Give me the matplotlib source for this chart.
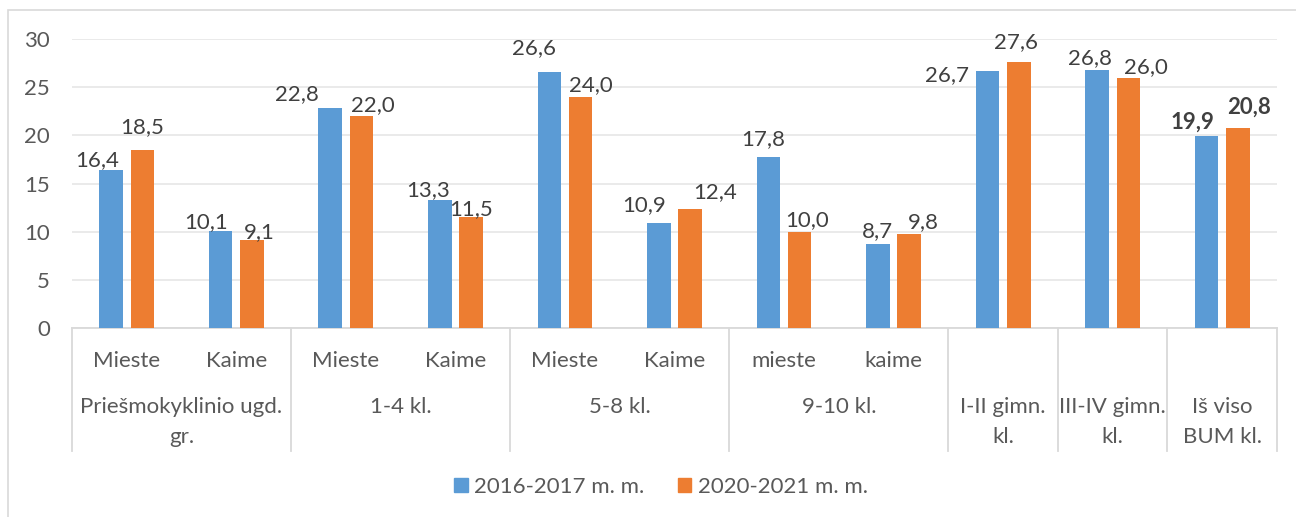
#!/usr/bin/env python
# -*- coding: utf-8 -*-
"""
Stulpelinė diagrama: 2016-2017 ir 2020-2021 m. m. palyginimas pagal klases
"""

import matplotlib
matplotlib.use('Agg')
import matplotlib.pyplot as plt
from matplotlib.patches import Rectangle, Patch
import numpy as np

plt.rcParams['font.family'] = ['Lato', 'DejaVu Sans']

# duomenys
sub_labels = ['Mieste', 'Kaime', 'Mieste', 'Kaime', 'Mieste', 'Kaime',
              'mieste', 'kaime', '', '', '']
group_labels = ['Priešmokyklinio ugd.\ngr.', '1-4 kl.', '5-8 kl.', '9-10 kl.',
                'I-II gimn.\nkl.', 'III-IV gimn.\nkl.', 'Iš viso\nBUM kl.']
group_sizes = [2, 2, 2, 2, 1, 1, 1]
series_names = ['2016-2017 m. m.', '2020-2021 m. m.']
vals_2016 = [16.4, 10.1, 22.8, 13.3, 26.6, 10.9, 17.8, 8.7, 26.7, 26.8, 19.9]
vals_2020 = [18.5, 9.1, 22.0, 11.5, 24.0, 12.4, 10.0, 9.8, 27.6, 26.0, 20.8]
y_ticks = [0, 5, 10, 15, 20, 25, 30]

# reikšmių etikečių poslinkiai (pikseliais), kaip originale
lbl_off_2016 = [(-14, 10), (-15, 9), (-33, 14), (-12, 10), (-15, 24), (-15, 18),
                (-5, 17), (0, 13), (-40, -4), (-7, 12), (-14, 14)]
lbl_off_2020 = [(0, 23), (7, 8), (11, 11), (0, 8), (10, 12), (25, 16),
                (7, 12), (14, 11), (-3, 20), (18, 10), (11, 20)]

BLUE = '#5B9BD5'
ORANGE = '#ED7D31'
TXT = '#595959'
LBL = '#404040'
GRID = '#e8e8e8'
LINE = '#d9d9d9'
FS = 16

W, H = 1296, 517


def fmt(v):
    return f'{v:.1f}'.replace('.', ',')


def main():
    fig = plt.figure(figsize=(W / 100, H / 100), dpi=100)
    ax = fig.add_axes([72 / W, 1 - 328 / H, (1277 - 72) / W, (328 - 39) / H])

    # rėmelis aplink diagramą
    fig.patches.append(Rectangle((7.5 / W, -0.1), 1.2, 1.1 - 10 / H,
                                 transform=fig.transFigure, fill=False,
                                 edgecolor=LINE, linewidth=1.2))

    x = np.arange(len(vals_2016))
    bw = 0.215
    off = 0.143
    b1 = ax.bar(x - off, vals_2016, bw, color=BLUE, zorder=3)
    b2 = ax.bar(x + off, vals_2020, bw, color=ORANGE, zorder=3)

    n = len(vals_2016)
    for bars, vals, offs in [(b1, vals_2016, lbl_off_2016), (b2, vals_2020, lbl_off_2020)]:
        for i, (rect, v) in enumerate(zip(bars, vals)):
            ax.annotate(fmt(v), (rect.get_x() + rect.get_width() / 2, v),
                        xytext=offs[i], textcoords='offset pixels',
                        ha='center', va='center', fontsize=FS, color=LBL,
                        fontweight='bold' if i == n - 1 else 'normal')

    ax.set_xlim(-0.5, n - 0.5)
    ax.set_ylim(0, 30)
    ax.set_yticks(y_ticks)
    ax.tick_params(axis='y', length=0, pad=16, labelsize=FS, labelcolor=TXT)
    ax.set_xticks([])
    ax.grid(True, axis='y', color=GRID, linewidth=1.3, zorder=0)
    for s in ['top', 'right', 'left']:
        ax.spines[s].set_visible(False)
    ax.spines['bottom'].set_color(LINE)
    ax.spines['bottom'].set_linewidth(1.3)

    # kategorijų ašis dviem lygiais
    tr = ax.get_xaxis_transform()
    y_sep = -(451 - 328) / (328 - 39)
    y_sub = -(367 - 328) / (328 - 39)
    line_y = [-(413 - 328) / (328 - 39), -(443 - 328) / (328 - 39)]

    for i, lab in enumerate(sub_labels):
        if lab:
            ax.text(i, y_sub, lab, transform=tr, ha='center', va='baseline',
                    fontsize=FS, color=TXT)

    start = 0
    bounds = [-0.5]
    for lab, size in zip(group_labels, group_sizes):
        cx = start + (size - 1) / 2
        for k, part in enumerate(lab.split('\n')):
            ax.text(cx, line_y[k], part, transform=tr, ha='center', va='baseline',
                    fontsize=FS, color=TXT)
        start += size
        bounds.append(start - 0.5)

    for b in bounds:
        ax.plot([b, b], [0, y_sep], transform=tr, color=LINE, linewidth=1.3,
                clip_on=False)

    # legenda
    handles = [Patch(color=BLUE), Patch(color=ORANGE)]
    fig.legend(handles, series_names, loc='center', ncol=2,
               bbox_to_anchor=(661 / W, 1 - 487 / H), frameon=False,
               fontsize=FS, labelcolor=TXT, handlelength=0.6, handleheight=0.6,
               handletextpad=0.3, columnspacing=1.5)

    plt.savefig('out.png', dpi=100)
    plt.close()


if __name__ == '__main__':
    main()
